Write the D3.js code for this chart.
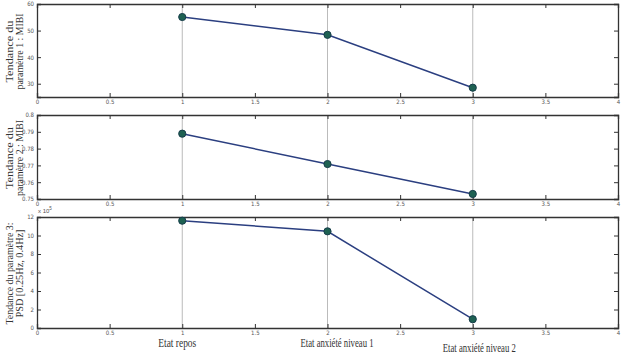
<!DOCTYPE html>
<html lang="fr">
<head>
<meta charset="UTF-8">
<title>Tendance</title>
<script src="https://cdn.jsdelivr.net/npm/d3@7"></script>
<style>
    body{margin:0;background:#fff;}
    .tick text{font-family:"Liberation Sans Narrow","DejaVu Sans Condensed","Liberation Sans",sans-serif;font-size:6px;fill:#555;}
    .ylab{font-family:"Liberation Serif",serif;font-size:10px;fill:#333;}
    .cat{font-family:"Liberation Serif",serif;font-size:11.5px;fill:#333;}
</style>
</head>
<body>
<svg id="chart" width="623" height="355"></svg>
<script>
    // data
    var xCats = [1, 2, 3];
    var catLabels = ["Etat repos", "Etat anxiété niveau 1", "Etat anxiété niveau 2"];
    var mibi1 = [55.1, 48.4, 28.5];
    var mibi2 = [0.7889, 0.7708, 0.7530];
    var psd = [11.6, 10.45, 0.95];   // x 10^5
    var xTicks = [0, 0.5, 1, 1.5, 2, 2.5, 3, 3.5, 4];
    var yTicks1 = [30, 40, 50, 60];
    var yTicks2 = [0.75, 0.76, 0.77, 0.78, 0.79, 0.8];
    var yTicks3 = [0, 2, 4, 6, 8, 10, 12];

    var svg = d3.select("#chart");
    var left = 37, right = 618;

    var x = d3.scaleLinear().domain([0, 4]).range([left, right]);

    var panels = [
        {top: 4, bottom: 97, domain: [25, 60], ticks: yTicks1, data: mibi1, fmt: d3.format("d"),
         label: ["Tendance du", "paramètre 1 : MIBI"], len: [62, 76]},
        {top: 115, bottom: 199, domain: [0.75, 0.8], ticks: yTicks2, data: mibi2,
         fmt: function(d){return d === 0.8 ? "0.8" : d3.format(".2f")(d);},
         label: ["Tendance du", "paramètre 2 : MIBI"], len: [62, 76]},
        {top: 217, bottom: 328, domain: [0, 12], ticks: yTicks3, data: psd, fmt: d3.format("d"),
         label: ["Tendance du paramètre 3:", "PSD  [0.25Hz, 0.4Hz]"], len: [102, 88]}
    ];

    panels.forEach(function(p){
        var y = d3.scaleLinear().domain(p.domain).range([p.bottom, p.top]);
        var g = svg.append("g");

        // gray vertical lines at the data x
        g.selectAll(".vl").data(xCats).enter().append("line")
            .attr("x1", function(d){return x(d);}).attr("x2", function(d){return x(d);})
            .attr("y1", p.top).attr("y2", p.bottom)
            .attr("stroke", "#bbb").attr("stroke-width", 1);

        // axes, ticks pointing inward
        g.append("g").attr("transform", "translate(0," + p.bottom + ")")
            .call(d3.axisBottom(x).tickValues(xTicks).tickSize(-4).tickPadding(3)
                .tickFormat(function(d){return String(d);}));
        g.append("g").attr("transform", "translate(0," + p.top + ")")
            .call(d3.axisTop(x).tickValues(xTicks).tickSize(-4).tickFormat(""));
        g.append("g").attr("transform", "translate(" + left + ",0)")
            .call(d3.axisLeft(y).tickValues(p.ticks).tickSize(-4).tickPadding(3).tickFormat(p.fmt));
        g.append("g").attr("transform", "translate(" + right + ",0)")
            .call(d3.axisRight(y).tickValues(p.ticks).tickSize(-4).tickFormat(""));
        g.selectAll(".domain").attr("stroke", "#333").attr("stroke-width", 1.3);
        g.selectAll(".tick line").attr("stroke", "#333");

        // line and markers
        var line = d3.line()
            .x(function(d, i){return x(xCats[i]);})
            .y(function(d){return y(d);});
        g.append("path").attr("d", line(p.data))
            .attr("fill", "none").attr("stroke", "#2b3f80").attr("stroke-width", 1.5);
        g.selectAll(".pt").data(p.data).enter().append("circle")
            .attr("cx", function(d, i){return x(xCats[i]);})
            .attr("cy", function(d){return y(d);})
            .attr("r", 3.6)
            .attr("fill", "#1e6152").attr("stroke", "#163d4a").attr("stroke-width", 1);

        // y label, two lines
        var cy = (p.top + p.bottom) / 2 + 1;
        [0, 1].forEach(function(j){
            svg.append("text").attr("class", "ylab")
                .attr("text-anchor", "middle")
                .attr("transform", "translate(" + (j === 0 ? 13 : 22.5) + "," + cy + ") rotate(-90)")
                .attr("textLength", p.len[j]).attr("lengthAdjust", "spacingAndGlyphs")
                .text(p.label[j]);
        });
    });

    // exponent label
    var ex = svg.append("text").attr("x", 38).attr("y", 213)
        .style("font-family", "Liberation Sans, sans-serif").style("font-size", "6px").style("fill", "#555")
        .text("x 10");
    ex.append("tspan").attr("dy", -3).style("font-size", "4.5px").text("5");

    // category labels
    var catOff = [-24, -27, -30], catY = [347, 347, 352], catLen = [38, 73, 73];
    svg.selectAll(".cat").data(catLabels).enter().append("text")
        .attr("class", "cat")
        .attr("x", function(d, i){return x(xCats[i]) + catOff[i];})
        .attr("y", function(d, i){return catY[i];})
        .attr("textLength", function(d, i){return catLen[i];})
        .attr("lengthAdjust", "spacingAndGlyphs")
        .text(function(d){return d;});
</script>
</body>
</html>
